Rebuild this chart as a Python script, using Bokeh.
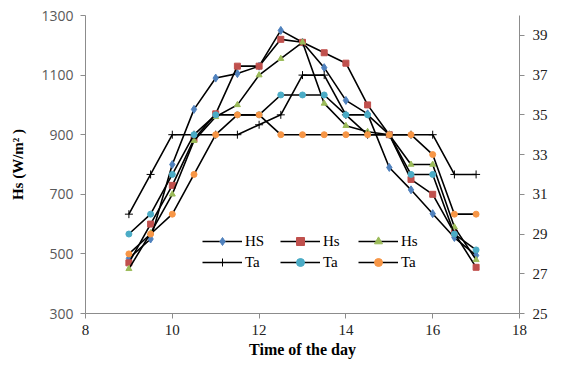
import math
from bokeh.plotting import figure
from bokeh.models import LinearAxis, Range1d, FixedTicker, Legend, LegendItem, Label
from bokeh.embed import file_html
from bokeh.resources import INLINE

# ---- data ----
times = [9, 9.5, 10, 10.5, 11, 11.5, 12, 12.5, 13, 13.5, 14, 14.5, 15, 15.5, 16, 16.5, 17]

hs_a = [485, 550, 800, 985, 1090, 1105, 1130, 1250, 1210, 1125, 1015, 970, 790, 715, 635, 555, 495]   # HS (blue)
hs_b = [470, 600, 730, 885, 970, 1130, 1130, 1220, 1210, 1175, 1140, 1000, 900, 750, 700, 570, 455]   # Hs (red)
hs_c = [450, 570, 700, 880, 960, 1000, 1100, 1155, 1210, 1005, 930, 910, 900, 800, 800, 590, 480]     # Hs (green)

ta_a = [30, 32, 34, 34, 34, 34, 34.5, 35, 37, 37, 35, 34, 34, 34, 34, 32, 32]   # Ta (plus)
ta_b = [29, 30, 32, 34, 35, 35, 35, 36, 36, 36, 35, 35, 34, 32, 32, 29, 28.2]   # Ta (teal)
ta_c = [28, 29, 30, 32, 34, 35, 35, 34, 34, 34, 34, 34, 34, 34, 33, 30, 30]     # Ta (orange)

time_ticks = [8, 10, 12, 14, 16, 18]
hs_ticks = [300, 500, 700, 900, 1100, 1300]
ta_ticks = [25, 27, 29, 31, 33, 35, 37, 39]

SERIF = "Liberation Serif"

p = figure(width=572, height=366, output_backend="svg", toolbar_location=None,
           x_range=Range1d(8, 18), y_range=Range1d(300, 1300),
           min_border_left=85, min_border_right=53, min_border_top=15, min_border_bottom=53)
p.extra_y_ranges = {"temp": Range1d(25, 40)}
p.outline_line_color = None
p.xgrid.visible = False
p.ygrid.visible = False
p.background_fill_color = "white"

axis_col = "#8c8c8c"

# left axis
ya = p.yaxis[0]
ya.ticker = FixedTicker(ticks=hs_ticks)
ya.axis_label = "Hs (W/m² )"
ya.axis_label_text_font = SERIF
ya.axis_label_text_font_style = "bold"
ya.axis_label_text_font_size = "15px"
ya.axis_label_text_color = "black"
ya.axis_label_standoff = 12
ya.major_label_text_font = "Open Sans"
ya.major_label_text_font_size = "14px"
ya.major_label_text_color = "#595959"
ya.major_label_standoff = 7

# bottom axis
xa = p.xaxis[0]
xa.ticker = FixedTicker(ticks=time_ticks)
xa.axis_label = "Time of the day"
xa.axis_label_text_font = SERIF
xa.axis_label_text_font_style = "bold"
xa.axis_label_text_font_size = "16px"
xa.axis_label_text_color = "black"
xa.axis_label_standoff = 3
xa.major_label_text_font = SERIF
xa.major_label_text_font_size = "15px"
xa.major_label_text_color = "#222222"
xa.major_label_standoff = 6

# right axis
ra = LinearAxis(y_range_name="temp", ticker=FixedTicker(ticks=ta_ticks))
ra.major_label_text_font = SERIF
ra.major_label_text_font_size = "15px"
ra.major_label_text_color = "#222222"
ra.major_label_standoff = 8
p.add_layout(ra, "right")

for ax in (xa, ya, ra):
    ax.axis_line_color = axis_col
    ax.major_tick_line_color = axis_col
    ax.major_tick_out = 5
    ax.major_tick_in = 0
    ax.minor_tick_line_color = None

p.add_layout(Label(x=18.9, y=35.1, y_range_name="temp", text="Ambient Temperature (°C)",
                   angle=math.pi / 2, text_align="center", text_baseline="middle",
                   text_font=SERIF, text_font_style="bold", text_font_size="15px",
                   text_color="black"))

LW = 1.6
blue, red, green, teal, orange = "#4F81BD", "#C0504D", "#9BBB59", "#4BACC6", "#F79646"

l1 = p.line(times, hs_a, line_color="black", line_width=LW)
s1 = p.scatter(times, hs_a, marker="diamond", size=8, fill_color=blue, line_color=blue)
l2 = p.line(times, hs_b, line_color="black", line_width=LW)
s2 = p.scatter(times, hs_b, marker="square", size=6, fill_color=red, line_color=red)
l3 = p.line(times, hs_c, line_color="black", line_width=LW)
s3 = p.scatter(times, hs_c, marker="triangle", size=6, fill_color=green, line_color=green)

l4 = p.line(times, ta_a, line_color="black", line_width=LW, y_range_name="temp")
s4 = p.scatter(times, ta_a, marker="cross", size=8, line_color="black", line_width=1, y_range_name="temp")
l5 = p.line(times, ta_b, line_color="black", line_width=LW, y_range_name="temp")
s5 = p.scatter(times, ta_b, marker="circle", size=6, fill_color=teal, line_color=teal, y_range_name="temp")
l6 = p.line(times, ta_c, line_color="black", line_width=LW, y_range_name="temp")
s6 = p.scatter(times, ta_c, marker="circle", size=6, fill_color=orange, line_color=orange, y_range_name="temp")

def make_legend(items, loc):
    lg = Legend(items=items, orientation="horizontal", location=loc,
                glyph_width=40, glyph_height=20, label_standoff=3, label_width=35,
                spacing=0, padding=0, margin=0, border_line_color=None,
                background_fill_alpha=0, label_text_font=SERIF,
                label_text_font_size="15px", label_text_color="black")
    return lg

lg1 = make_legend([LegendItem(label="HS", renderers=[l1, s1]),
                   LegendItem(label="Hs", renderers=[l2, s2]),
                   LegendItem(label="Hs", renderers=[l3, s3])], (117, 62))
lg2 = make_legend([LegendItem(label="Ta", renderers=[l4, s4]),
                   LegendItem(label="Ta", renderers=[l5, s5]),
                   LegendItem(label="Ta", renderers=[l6, s6])], (117, 41))
p.add_layout(lg1)
p.add_layout(lg2)

open("out.html", "w").write(file_html(p, INLINE))
